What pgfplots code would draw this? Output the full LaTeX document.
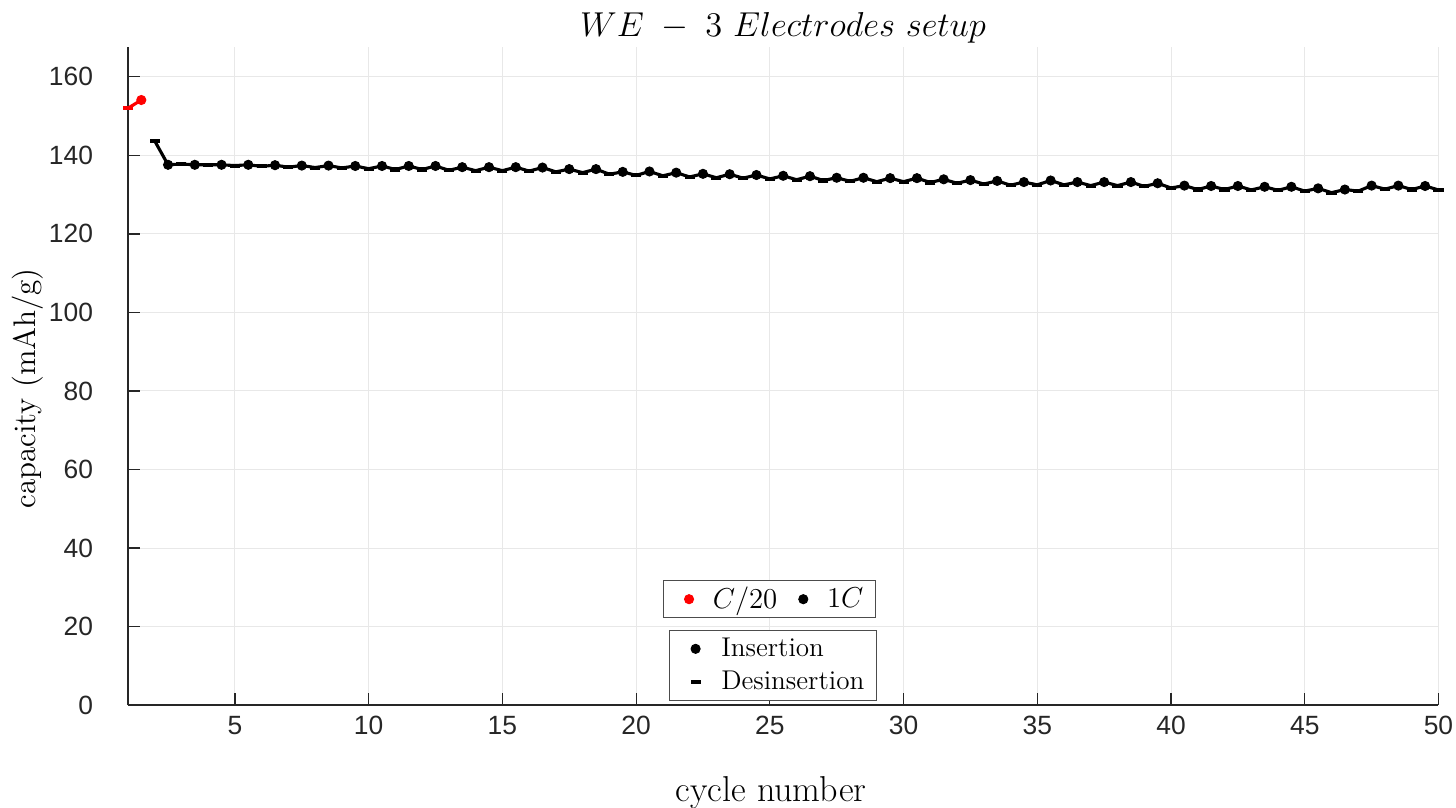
\documentclass[border=0pt]{standalone}
\usepackage{pgfplots}
\pgfplotsset{compat=1.18}
\usepackage{pgfplotstable}
\usepackage{fontspec}
\newfontfamily\arialf{Liberation Sans}
\definecolor{axgray}{HTML}{262626}
\definecolor{mred}{HTML}{FF0000}

\pgfplotstableread{
x y
1 152.0
1.5 154.1
}\redline
\pgfplotstableread{
x y
1.5 154.1
}\redins
\pgfplotstableread{
x y
1 152.0
}\reddes
\pgfplotstableread{
x y
2.5 137.6
3.5 137.6
4.5 137.6
5.5 137.6
6.5 137.5
7.5 137.4
8.5 137.4
9.5 137.3
10.5 137.3
11.5 137.3
12.5 137.3
13.5 137.0
14.5 137.0
15.5 137.0
16.5 136.9
17.5 136.5
18.5 136.5
19.5 135.8
20.5 135.9
21.5 135.6
22.5 135.3
23.5 135.2
24.5 135.0
25.5 134.8
26.5 134.7
27.5 134.3
28.5 134.3
29.5 134.2
30.5 134.2
31.5 133.9
32.5 133.7
33.5 133.5
34.5 133.2
35.5 133.6
36.5 133.2
37.5 133.2
38.5 133.2
39.5 132.9
40.5 132.3
41.5 132.2
42.5 132.2
43.5 132.0
44.5 132.0
45.5 131.6
46.5 131.3
47.5 132.3
48.5 132.3
49.5 132.2
}\blkins
\pgfplotstableread{
x y
2 143.7
3 137.8
4 137.6
5 137.4
6 137.2
7 137.0
8 136.9
9 136.8
10 136.6
11 136.4
12 136.4
13 136.2
14 136.1
15 136.1
16 136.0
17 135.8
18 135.6
19 135.2
20 134.9
21 134.8
22 134.5
23 134.3
24 134.2
25 134.0
26 133.8
27 133.6
28 133.4
29 133.3
30 133.3
31 133.1
32 132.9
33 132.7
34 132.4
35 132.5
36 132.5
37 132.3
38 132.3
39 132.1
40 131.7
41 131.3
42 131.3
43 131.2
44 131.1
45 130.9
46 130.5
47 130.9
48 131.4
49 131.3
50 131.2
}\blkdes
\pgfplotstableread{
x y
2 143.7
2.5 137.6
3 137.8
3.5 137.6
4 137.6
4.5 137.6
5 137.4
5.5 137.6
6 137.2
6.5 137.5
7 137.0
7.5 137.4
8 136.9
8.5 137.4
9 136.8
9.5 137.3
10 136.6
10.5 137.3
11 136.4
11.5 137.3
12 136.4
12.5 137.3
13 136.2
13.5 137.0
14 136.1
14.5 137.0
15 136.1
15.5 137.0
16 136.0
16.5 136.9
17 135.8
17.5 136.5
18 135.6
18.5 136.5
19 135.2
19.5 135.8
20 134.9
20.5 135.9
21 134.8
21.5 135.6
22 134.5
22.5 135.3
23 134.3
23.5 135.2
24 134.2
24.5 135.0
25 134.0
25.5 134.8
26 133.8
26.5 134.7
27 133.6
27.5 134.3
28 133.4
28.5 134.3
29 133.3
29.5 134.2
30 133.3
30.5 134.2
31 133.1
31.5 133.9
32 132.9
32.5 133.7
33 132.7
33.5 133.5
34 132.4
34.5 133.2
35 132.5
35.5 133.6
36 132.5
36.5 133.2
37 132.3
37.5 133.2
38 132.3
38.5 133.2
39 132.1
39.5 132.9
40 131.7
40.5 132.3
41 131.3
41.5 132.2
42 131.3
42.5 132.2
43 131.2
43.5 132.0
44 131.1
44.5 132.0
45 130.9
45.5 131.6
46 130.5
46.5 131.3
47 130.9
47.5 132.3
48 131.4
48.5 132.3
49 131.3
49.5 132.2
50 131.2
}\blkline

\pgfplotsset{
  common/.style={
    scale only axis, width=546pt, height=274pt,
    xmin=1, xmax=50, ymin=0, ymax=167.5,
  },
  dotmark/.style={mark=*, mark size=1.9pt},
  dashmark/.style={mark=-, mark size=2.1pt, mark options={line width=1.7pt}},
  padleg/.style={legend image code/.code={%
    \path[draw=none, fill=none] (-7.8pt,0pt) rectangle (0pt,0pt);
    \draw[##1] plot coordinates {(0pt,0pt)};}},
}

\begin{document}
\begin{tikzpicture}
\path[use as bounding box] (-53.3pt,-42.5pt) rectangle (553.3pt,293.75pt);
\begin{axis}[common,
  axis lines=left,
  axis line style={axgray, line width=0.5pt, -},
  xtick={5,10,...,50}, ytick={0,20,...,160},
  tick align=inside, tick style={axgray, line width=0.5pt}, major tick length=5pt,
  grid=major, grid style={gray!18, line width=0.4pt},
  /pgf/number format/assume math mode=true,
  tick label style={font=\arialf\fontsize{11}{13}\selectfont, text=axgray},
  yticklabel style={xshift=-11pt},
  xticklabel style={yshift=-1pt},
  title={\fontsize{13.9}{16}\selectfont $WE\;-\;3\ Electrodes\ setup$},
  title style={yshift=-8pt},
  xlabel={\fontsize{15}{17}\selectfont cycle number},
  ylabel={\fontsize{13}{15}\selectfont capacity (mAh/g)},
  xlabel style={yshift=-10.5pt, xshift=-5pt},
  ylabel style={yshift=-4.5pt, xshift=-5pt},
]
\addplot[mred, line width=1.3pt, no marks] table[x=x,y=y] {\redline};
\addplot[mred, only marks, dotmark] table[x=x,y=y] {\redins};
\addplot[mred, only marks, dashmark] table[x=x,y=y] {\reddes};
\addplot[black, line width=1.3pt, no marks] table[x=x,y=y] {\blkline};
\addplot[black, only marks, dotmark] table[x=x,y=y] {\blkins};
\addplot[black, only marks, dashmark] table[x=x,y=y] {\blkdes};
\end{axis}
\begin{axis}[common, hide axis,
  legend columns=2,
  legend style={at={(rel axis cs:0.408,0.190)}, anchor=north west,
    draw=gray!60!black, line width=0.4pt, font=\fontsize{11.5}{13}\selectfont,
    inner xsep=3pt, inner ysep=0.5pt,
    /tikz/every odd column/.append style={column sep=6pt},
    /tikz/every even column/.append style={column sep=1pt}},
]
\addlegendimage{padleg, mred, only marks, mark=*, mark size=1.9pt}
\addlegendentry{$C/20$}
\addlegendimage{padleg, black, only marks, mark=*, mark size=1.9pt}
\addlegendentry{$1C$}
\end{axis}
\begin{axis}[common, hide axis,
  legend cell align=left,
  legend style={at={(rel axis cs:0.413,0.114)}, anchor=north west,
    draw=gray!60!black, line width=0.4pt, font=\fontsize{11.3}{13}\selectfont,
    inner xsep=3pt, inner ysep=1pt, row sep=0.5pt,
    /tikz/every odd column/.append style={column sep=6.6pt}},
]
\addlegendimage{padleg, black, only marks, mark=*, mark size=1.9pt}
\addlegendentry{Insertion}
\addlegendimage{padleg, black, only marks, mark=-, mark size=2.1pt, mark options={line width=1.7pt}}
\addlegendentry{Desinsertion}
\end{axis}
\end{tikzpicture}
\end{document}
